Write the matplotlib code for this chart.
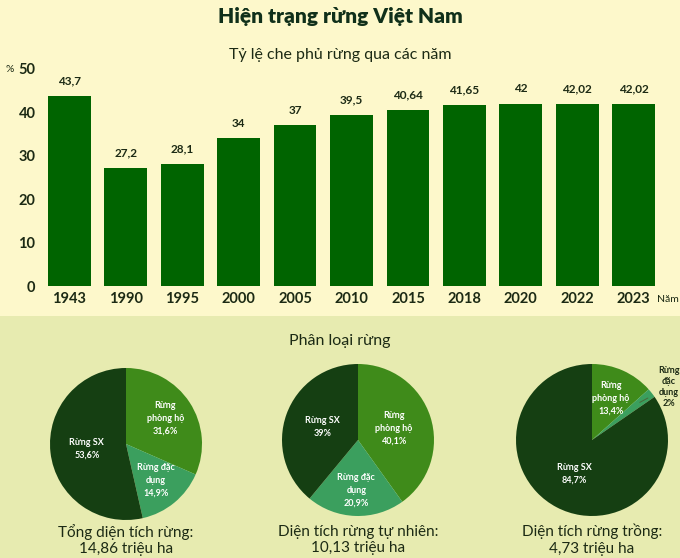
import matplotlib
matplotlib.use("Agg")
import matplotlib.pyplot as plt
import numpy as np

plt.rcParams['font.family'] = ['Lato', 'Open Sans', 'DejaVu Sans']

years = ['1943', '1990', '1995', '2000', '2005', '2010', '2015', '2018', '2020', '2022', '2023']
cover = [43.7, 27.2, 28.1, 34, 37, 39.5, 40.64, 41.65, 42, 42.02, 42.02]
cover_labels = ['43,7', '27,2', '28,1', '34', '37', '39,5', '40,64', '41,65', '42', '42,02', '42,02']

pie_names = ['Rừng\nphòng hộ', 'Rừng đặc\ndụng', 'Rừng SX']
pie_total = [31.6, 14.9, 53.6]
pie_natural = [40.1, 20.9, 39]
pie_planted = [13.4, 2, 84.7]
pie_pct_total = ['31,6%', '14,9%', '53,6%']
pie_pct_natural = ['40,1%', '20,9%', '39%']
pie_pct_planted = ['13,4%', '2%', '84,7%']
pie_titles = ['Tổng diện tích rừng:\n14,86 triệu ha',
              'Diện tích rừng tự nhiên:\n10,13 triệu ha',
              'Diện tích rừng trồng:\n4,73 triệu ha']

W, H = 680, 558
top_bg = '#fdf8cb'
bot_bg = '#e7ebb0'
bar_col = '#006400'
txt = '#1c2a14'
pie_cols = ['#3f8b1a', '#3b9f5e', '#153f12']

fig = plt.figure(figsize=(W / 100, H / 100), dpi=100)
fig.patch.set_facecolor(top_bg)
fig.patches.append(plt.Rectangle((0, 0), 1, 1 - 316 / H, transform=fig.transFigure,
                                 facecolor=bot_bg, edgecolor='none', zorder=-10))

fig.text(0.5, 1 - 16 / H, 'Hiện trạng rừng Việt Nam', ha='center', va='center',
         fontsize=15, fontweight='heavy', color='#10301a')
fig.text(0.5, 1 - 55 / H, 'Tỷ lệ che phủ rừng qua các năm', ha='center', va='center',
         fontsize=11.5, color=txt)
fig.text(0.5, 1 - 341 / H, 'Phân loại rừng', ha='center', va='center',
         fontsize=11.5, color=txt)

# bar chart
ax = fig.add_axes([41 / W, 1 - 286 / H, (662 - 41) / W, (286 - 69) / H])
ax.set_facecolor('none')
x = np.arange(len(years))
ax.bar(x, cover, width=0.76, color=bar_col)
for xi, v, lab in zip(x, cover, cover_labels):
    ax.text(xi, v + 2.2, lab, ha='center', va='bottom', fontsize=8.5,
            fontweight='bold', color=txt)
ax.set_xlim(-0.5, len(years) - 0.5)
ax.set_ylim(0, 50)
ax.set_yticks([0, 10, 20, 30, 40, 50])
ax.set_xticks(x)
ax.set_xticklabels(years)
ax.tick_params(length=0, labelsize=10.5, colors=txt, pad=4)
for lab in ax.get_xticklabels() + ax.get_yticklabels():
    lab.set_fontweight('bold')
for s in ax.spines.values():
    s.set_visible(False)
fig.text(10 / W, 1 - 70 / H, '%', ha='center', va='center', fontsize=7.5, color=txt)
fig.text(657 / W, 1 - 300 / H, 'Năm', ha='left', va='center', fontsize=7.5, color=txt)

# pies
centers = [(126, 444), (358, 440), (592, 440)]
radius = 76
datasets = [pie_total, pie_natural, pie_planted]
pcts = [pie_pct_total, pie_pct_natural, pie_pct_planted]
label_r = [[0.62, 0.62, 0.52], [0.5, 0.66, 0.5], [0.6, 0.6, 0.5]]

for k, (cx, cy) in enumerate(centers):
    pax = fig.add_axes([(cx - radius) / W, 1 - (cy + radius) / H, 2 * radius / W, 2 * radius / H])
    wedges, _ = pax.pie(datasets[k], colors=pie_cols, startangle=90, counterclock=False,
                        radius=1, wedgeprops=dict(linewidth=0))
    pax.set_xlim(-1, 1)
    pax.set_ylim(-1, 1)
    pax.set_aspect('equal')
    pax.axis('off')
    for j, w in enumerate(wedges):
        ang = np.deg2rad((w.theta1 + w.theta2) / 2)
        label = pie_names[j] + '\n' + pcts[k][j]
        if k == 2 and j == 1:
            pax.annotate('Rừng\nđặc\ndụng\n2%', xy=(0.8 * np.cos(ang), 0.8 * np.sin(ang)),
                         xytext=(1.01, 0.7), ha='center', va='center', fontsize=6.5,
                         fontweight='bold', color=txt, annotation_clip=False, linespacing=1.3,
                         arrowprops=dict(arrowstyle='-', color='#4a6a3a', lw=0.7,
                                         shrinkA=6, shrinkB=0))
            continue
        r = label_r[k][j]
        pax.text(r * np.cos(ang), r * np.sin(ang), label, ha='center', va='center',
                 fontsize=6.5, fontweight='bold', color='white', linespacing=1.5)
    fig.text(cx / W, 1 - 540 / H, pie_titles[k], ha='center', va='center',
             fontsize=11, color=txt, linespacing=1.25)

fig.savefig('out.png', dpi=100, facecolor=fig.get_facecolor())
